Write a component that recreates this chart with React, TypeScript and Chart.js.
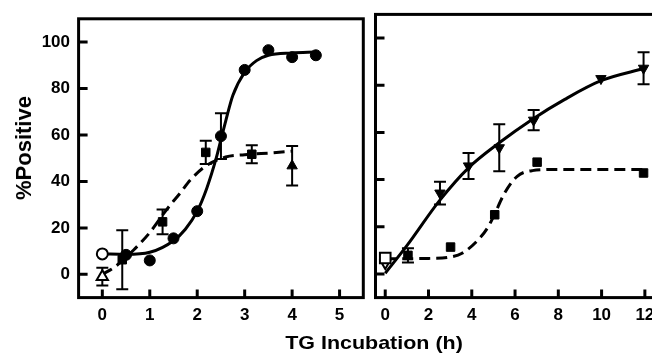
import React, { useEffect, useRef } from "react";
import { Chart, registerables } from "chart.js";

Chart.register(...registerables);

// ---------- tick labels ----------
const yTicks = [0, 20, 40, 60, 80, 100];
const leftXTicks = [0, 1, 2, 3, 4, 5];
const rightXTicks = [0, 2, 4, 6, 8, 10, 12];

// ---------- left panel data ----------
const circleX = [0.5, 1, 1.5, 2, 2.5, 3, 3.5, 4, 4.5];
const circleY = [8.4, 6, 15.5, 27.2, 59.5, 88, 96.5, 93.5, 94.3];
const circleErr = [0, 0, 0, 0, 9.8, 0, 0, 0, 0];
const openCircleX = [0];
const openCircleY = [8.8];

const squareX = [0.42, 1.27, 2.18, 3.15];
const squareY = [6.3, 22.6, 52.5, 51.7];
const squareErr = [12.7, 5.3, 5, 3.9];

const triX = [4.0];
const triY = [46.7];
const triErr = [8.5];
const openTriX = [0];
const openTriY = [-1];
const openTriErr = [3.8];

const fitSolidLeftX = [0, 0.5, 1, 1.5, 1.75, 2, 2.2, 2.4, 2.5, 2.6, 2.75, 3, 3.25, 3.5, 4, 4.5];
const fitSolidLeftY = [8.8, 8.6, 9.5, 14.5, 19.4, 27.2, 37, 50, 58, 66, 77, 87, 92, 94.3, 95.3, 95.7];
const fitDashLeftX = [0, 0.25, 0.66, 1, 1.36, 1.64, 1.85, 2.17, 2.6, 3, 3.57, 4];
const fitDashLeftY = [0, 3, 10.5, 18, 28, 35, 40.5, 46.5, 50.5, 51.5, 52.3, 53];

// ---------- right panel data ----------
const dTriX = [2.53, 3.85, 5.27, 6.86, 9.97, 11.94];
const dTriY = [34.3, 45.8, 53.5, 65.2, 82.8, 87.2];
const dTriErr = [4.8, 5.5, 10, 4.3, 0, 6.8];
const openDTriX = [0];
const openDTriY = [4.5];

const rSquareX = [1.05, 3.02, 5.06, 7.02, 11.94];
const rSquareY = [7.9, 11.4, 25.1, 47.4, 42.8];
const rSquareErr = [3, 0, 0, 0, 0];
const openSquareX = [0];
const openSquareY = [6.8];

const fitSolidRightX = [0, 1, 2.5, 3.85, 5.27, 6.79, 8.3, 10, 12];
const fitSolidRightY = [0.3, 12, 31, 45, 55.6, 65.5, 74, 82, 87.2];
const fitDashRightX = [0, 1, 2, 3, 3.55, 4.3, 4.76, 5.06, 5.5, 6.1, 6.8, 8, 12];
const fitDashRightY = [6.5, 6.5, 6.6, 7.2, 8.8, 14.5, 20, 25.5, 34, 41.4, 43.8, 44.3, 44.3];

const FONT = "'Liberation Sans', Arial, Helvetica, sans-serif";

const pts = (xs: number[], ys: number[]) => xs.map((x, i) => ({ x, y: ys[i] }));

const framePlugin = {
  id: "frameTicks",
  beforeDatasetsDraw(chart: any) {
    const ctx = chart.ctx;
    const ys = chart.scales.y;
    ctx.save();
    ctx.strokeStyle = "#000";
    ctx.lineWidth = 2;
    chart.data.datasets.forEach((ds: any, i: number) => {
      const errs = ds.errors;
      if (!errs) return;
      const meta = chart.getDatasetMeta(i);
      meta.data.forEach((pt: any, j: number) => {
        const e = errs[j];
        if (!e) return;
        const v = ds.data[j].y;
        const y1 = ys.getPixelForValue(v + e);
        const y2 = ys.getPixelForValue(v - e);
        ctx.beginPath();
        ctx.moveTo(pt.x, y1);
        ctx.lineTo(pt.x, y2);
        ctx.moveTo(pt.x - 6, y1);
        ctx.lineTo(pt.x + 6, y1);
        ctx.moveTo(pt.x - 6, y2);
        ctx.lineTo(pt.x + 6, y2);
        ctx.stroke();
      });
    });
    ctx.restore();
  },
  afterDraw(chart: any) {
    const ctx = chart.ctx;
    const { left, right, top, bottom } = chart.chartArea;
    ctx.save();
    ctx.strokeStyle = "#000";
    ctx.lineWidth = 3;
    ctx.strokeRect(left, top, right - left, bottom - top);
    ctx.beginPath();
    chart.scales.y.ticks.forEach((t: any) => {
      const py = chart.scales.y.getPixelForValue(t.value);
      ctx.moveTo(left, py);
      ctx.lineTo(left + 9, py);
    });
    chart.scales.x.ticks.forEach((t: any) => {
      const px = chart.scales.x.getPixelForValue(t.value);
      ctx.moveTo(px, bottom);
      ctx.lineTo(px, bottom - 8);
    });
    ctx.stroke();
    ctx.restore();
  },
};

const lineDs = (xs: number[], ys: number[], dashed: boolean) => ({
  data: pts(xs, ys),
  showLine: true,
  pointRadius: 0,
  borderColor: "#000",
  borderWidth: 3,
  borderDash: dashed ? [11, 6] : [],
  cubicInterpolationMode: "monotone",
  fill: false,
  order: 10,
});

const markerDs = (
  xs: number[],
  ys: number[],
  style: string,
  radius: number,
  open: boolean,
  errors?: number[],
  rotation = 0
) => ({
  data: pts(xs, ys),
  showLine: false,
  pointStyle: style,
  pointRadius: radius,
  pointRotation: rotation,
  pointBackgroundColor: open ? "#fff" : "#000",
  pointBorderColor: "#000",
  pointBorderWidth: open ? 2 : 1,
  errors,
  order: 1,
});

function makeConfig(
  datasets: any[],
  xMin: number,
  xMax: number,
  xTickVals: number[],
  showYLabels: boolean,
  yWidth: number,
  padding: any
): any {
  return {
    type: "scatter",
    data: { datasets },
    plugins: [framePlugin],
    options: {
      animation: false,
      responsive: false,
      devicePixelRatio: 1,
      layout: { padding },
      plugins: { legend: { display: false }, tooltip: { enabled: false } },
      scales: {
        x: {
          type: "linear",
          min: xMin,
          max: xMax,
          afterBuildTicks: (s: any) => {
            s.ticks = xTickVals.map((v) => ({ value: v }));
          },
          afterFit: (s: any) => {
            s.height = 57.4;
          },
          grid: { display: false, drawTicks: false },
          border: { display: false },
          ticks: {
            color: "#000",
            font: { family: FONT, size: 17, weight: "bold" },
            padding: 8,
            maxRotation: 0,
            autoSkip: false,
          },
        },
        y: {
          type: "linear",
          min: -10,
          max: 110,
          afterBuildTicks: (s: any) => {
            s.ticks = yTicks.map((v) => ({ value: v }));
          },
          afterFit: (s: any) => {
            s.width = yWidth;
          },
          grid: { display: false, drawTicks: false },
          border: { display: false },
          ticks: {
            display: showYLabels,
            color: "#000",
            font: { family: FONT, size: 17, weight: "bold" },
            padding: 8.6,
            autoSkip: false,
          },
        },
      },
    },
  };
}

export default function App() {
  const leftRef = useRef<HTMLCanvasElement>(null);
  const rightRef = useRef<HTMLCanvasElement>(null);

  useEffect(() => {
    const leftDatasets = [
      lineDs(fitSolidLeftX, fitSolidLeftY, false),
      lineDs(fitDashLeftX, fitDashLeftY, true),
      markerDs(circleX, circleY, "circle", 5.5, false, circleErr),
      markerDs(openCircleX, openCircleY, "circle", 5.5, true),
      markerDs(squareX, squareY, "rect", 6, false, squareErr),
      markerDs(triX, triY, "triangle", 6, false, triErr),
      markerDs(openTriX, openTriY, "triangle", 6.5, true, openTriErr),
    ];
    const rightDatasets = [
      lineDs(fitSolidRightX, fitSolidRightY, false),
      lineDs(fitDashRightX, fitDashRightY, true),
      markerDs(dTriX, dTriY, "triangle", 6, false, dTriErr, 180),
      markerDs(rSquareX, rSquareY, "rect", 6, false, rSquareErr),
      markerDs(openSquareX, openSquareY, "rect", 7.5, true),
      markerDs(openDTriX, openDTriY, "triangle", 5.5, true, undefined, 180),
    ];
    const left = new Chart(
      leftRef.current!,
      makeConfig(leftDatasets, -0.5, 5.5, leftXTicks, true, 78.6, {
        top: 14.4,
        left: 0,
        right: 8.7,
        bottom: 0,
      })
    );
    const right = new Chart(
      rightRef.current!,
      makeConfig(rightDatasets, -0.45, 13, rightXTicks, false, 0, {
        top: 14.4,
        left: 8.4,
        right: 6,
        bottom: 0,
      })
    );
    return () => {
      left.destroy();
      right.destroy();
    };
  }, []);

  return (
    <div
      style={{
        position: "fixed",
        left: 0,
        top: 0,
        width: 652,
        height: 355,
        overflow: "hidden",
        background: "#fff",
      }}
    >
      <canvas
        ref={leftRef}
        width={372}
        height={355}
        style={{ position: "absolute", left: 0, top: 0 }}
      />
      <canvas
        ref={rightRef}
        width={310}
        height={355}
        style={{ position: "absolute", left: 366, top: 0 }}
      />
      <div
        style={{
          position: "absolute",
          left: 23.5,
          top: 148,
          transform: "translate(-50%, -50%) rotate(-90deg)",
          fontFamily: FONT,
          fontWeight: "bold",
          fontSize: 22,
          lineHeight: "22px",
          whiteSpace: "nowrap",
          color: "#000",
        }}
      >
        %Positive
      </div>
      <div
        style={{
          position: "absolute",
          left: 374,
          top: 333,
          transform: "translateX(-50%) scaleX(1.13)",
          fontFamily: FONT,
          fontWeight: "bold",
          fontSize: 19,
          lineHeight: "19px",
          whiteSpace: "nowrap",
          color: "#000",
        }}
      >
        TG Incubation (h)
      </div>
    </div>
  );
}
